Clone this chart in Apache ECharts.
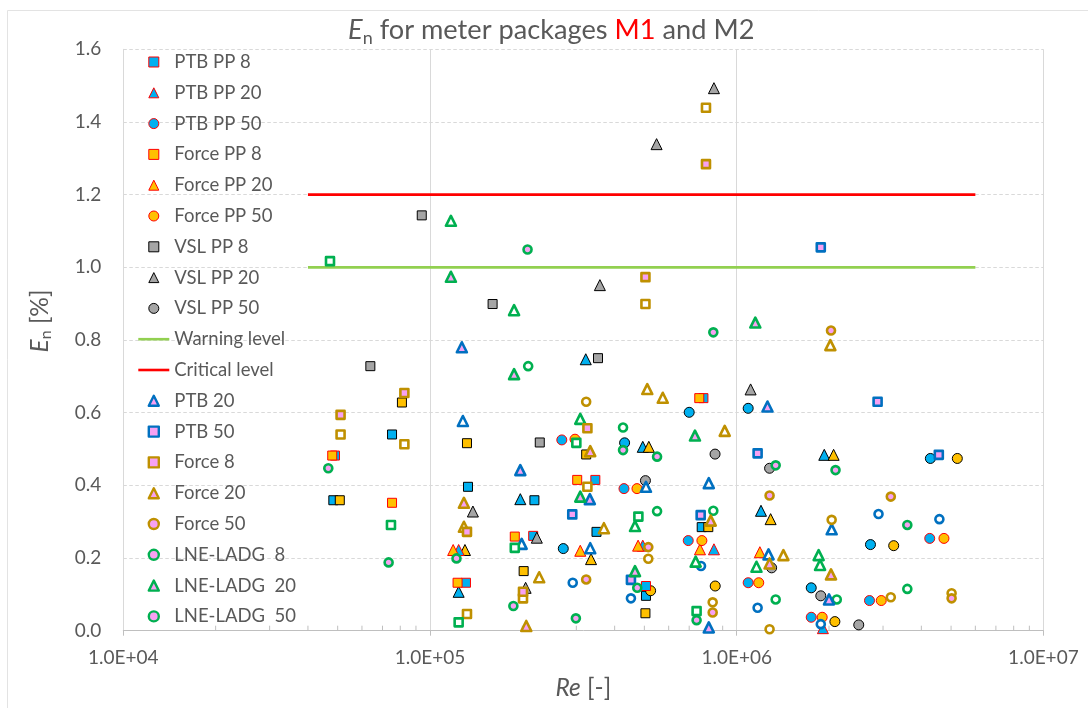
<!DOCTYPE html>
<html><head><meta charset="utf-8">
<script src="https://cdn.jsdelivr.net/npm/echarts@6/dist/echarts.min.js"></script>
<style>html,body{margin:0;padding:0;background:#fff}#c{width:1088px;height:708px}</style>
</head><body><div id="c"></div>
<script>
// ---- tick labels ----
const xTickLabels = ['1.0E+04', '1.0E+05', '1.0E+06', '1.0E+07'];
const yTickLabels = ['0.0', '0.2', '0.4', '0.6', '0.8', '1.0', '1.2', '1.4', '1.6'];
const minorTicks = [2e4, 3e4, 4e4, 5e4, 6e4, 7e4, 8e4, 9e4,
  2e5, 3e5, 4e5, 5e5, 6e5, 7e5, 8e5, 9e5,
  2e6, 3e6, 4e6, 5e6, 6e6, 7e6, 8e6, 9e6];

// ---- reference levels ----
const warningLevel = [[4e4, 1.0], [6e6, 1.0]];
const criticalLevel = [[4e4, 1.2], [6e6, 1.2]];

// ---- filled markers, red edge ----
const ptbPP8 = [[4.9e4, 0.482], [1.31e5, 0.132], [3.46e5, 0.415], [7.79e5, 0.640], [2.17e5, 0.261], [5.06e5, 0.123]];
const ptbPP20 = [[1.24e5, 0.222], [4.94e5, 0.234], [8.43e5, 0.224], [1.91e6, 0.007]];
const ptbPP50 = [[2.69e5, 0.525], [4.29e5, 0.391], [6.95e5, 0.248], [4.26e6, 0.254], [1.09e6, 0.132], [2.71e6, 0.083], [1.75e6, 0.037]];
const forcePP8 = [[4.8e4, 0.482], [7.52e4, 0.352], [1.23e5, 0.132], [1.89e5, 0.259], [3.02e5, 0.415], [7.55e5, 0.640]];
const forcePP20 = [[1.19e5, 0.222], [3.09e5, 0.220], [4.77e5, 0.234], [7.59e5, 0.224], [1.19e6, 0.216]];
const forcePP50 = [[2.97e5, 0.527], [4.73e5, 0.391], [7.7e5, 0.248], [4.74e6, 0.254], [1.18e6, 0.132], [2.96e6, 0.083], [1.90e6, 0.037]];
const vslPP8 = [[9.4e4, 1.143], [1.60e5, 0.899], [6.39e4, 0.728], [2.28e5, 0.518], [3.53e5, 0.750]];
const vslPP20 = [[8.43e5, 1.493], [5.48e5, 1.339], [3.58e5, 0.951], [1.11e6, 0.664], [1.38e5, 0.328], [2.23e5, 0.256], [2.05e5, 0.118]];
const vslPP50 = [[8.5e5, 0.486], [5.04e5, 0.413], [1.28e6, 0.447], [1.30e6, 0.173], [1.88e6, 0.096], [2.50e6, 0.016]];

// ---- filled markers, black edge ----
const ptbPP8b = [[7.52e4, 0.540], [1.33e5, 0.396], [4.84e4, 0.359], [2.19e5, 0.359], [3.49e5, 0.272], [7.69e5, 0.285], [5.06e5, 0.096]];
const ptbPP20b = [[1.97e5, 0.362], [1.24e5, 0.107], [3.22e5, 0.747], [4.94e5, 0.506], [1.93e6, 0.484], [1.20e6, 0.330]];
const ptbPP50b = [[7.0e5, 0.601], [1.09e6, 0.612], [4.31e5, 0.517], [2.72e5, 0.226], [4.28e6, 0.474], [2.73e6, 0.237], [1.75e6, 0.118]];
const forcePP8b = [[8.1e4, 0.628], [1.32e5, 0.516], [5.08e4, 0.359], [2.02e5, 0.164], [3.23e5, 0.485], [8.08e5, 0.285], [5.04e5, 0.048]];
const forcePP20b = [[1.30e5, 0.222], [5.17e5, 0.506], [3.35e5, 0.197], [2.07e6, 0.484], [1.29e6, 0.307]];
const forcePP50b = [[5.24e5, 0.110], [8.51e5, 0.123], [5.24e6, 0.474], [3.25e6, 0.234], [2.09e6, 0.025]];

// ---- hollow markers, pink fill ----
const ptb20 = [[1.27e5, 0.780], [1.97e5, 0.442], [3.32e5, 0.362], [1.26e6, 0.617], [2.0e6, 0.086], [8.11e5, 0.009]];
const ptb50 = [[1.88e6, 1.055], [2.91e5, 0.320], [4.52e5, 0.140], [7.63e5, 0.318], [2.88e6, 0.630], [1.17e6, 0.488], [4.56e6, 0.484]];
const force8 = [[7.94e5, 1.284], [5.04e5, 0.973], [8.25e4, 0.654], [5.11e4, 0.594], [1.32e5, 0.272], [3.26e5, 0.557], [2.01e5, 0.107]];
const force20 = [[1.29e5, 0.352], [2.06e5, 0.013], [3.33e5, 0.494], [8.23e5, 0.303], [1.28e6, 0.185], [2.03e6, 0.155]];
const force50 = [[2.03e6, 0.826], [5.15e5, 0.230], [3.23e5, 0.141], [8.35e5, 0.050], [1.28e6, 0.372], [3.18e6, 0.369], [5.02e6, 0.089]];
const lne8 = [[4.66e4, 0.447], [7.33e4, 0.188], [1.22e5, 0.199], [1.87e5, 0.068], [2.99e5, 0.034]];
const lne20 = [[1.17e5, 0.974], [1.88e5, 0.706], [7.31e5, 0.537], [3.09e5, 0.369], [4.66e5, 0.164], [1.15e6, 0.848]];
const lne50 = [[2.08e5, 1.049], [8.39e5, 0.821], [4.26e5, 0.497], [5.5e5, 0.479], [4.74e5, 0.118], [7.40e5, 0.029], [1.34e6, 0.455], [2.10e6, 0.442], [3.6e6, 0.291]];

// ---- hollow markers, white fill ----
const ptb20w = [[1.28e5, 0.577], [1.99e5, 0.239], [5.06e5, 0.396], [8.11e5, 0.406], [3.33e5, 0.227], [1.27e6, 0.210], [2.04e6, 0.279]];
const ptb50w = [[7.65e5, 0.178], [2.92e5, 0.132], [4.52e5, 0.089], [2.90e6, 0.321], [4.58e6, 0.307], [1.17e6, 0.063], [1.88e6, 0.018]];
const force8w = [[7.94e5, 1.439], [5.04e5, 0.899], [5.11e4, 0.540], [8.25e4, 0.513], [2.01e5, 0.089], [1.32e5, 0.046], [3.26e5, 0.396]];
const force20w = [[1.29e5, 0.286], [5.11e5, 0.665], [5.74e5, 0.641], [9.14e5, 0.550], [2.27e5, 0.147], [3.69e5, 0.282], [2.02e6, 0.786], [1.42e6, 0.208]];
const force50w = [[3.23e5, 0.630], [5.15e5, 0.198], [8.35e5, 0.078], [2.04e6, 0.305], [3.18e6, 0.092], [5.02e6, 0.103], [1.28e6, 0.004]];
const lne8w = [[4.72e4, 1.017], [7.46e4, 0.291], [1.89e5, 0.228], [1.24e5, 0.023], [3.0e5, 0.517], [4.78e5, 0.314], [7.40e5, 0.054]];
const lne20w = [[1.17e5, 1.128], [1.88e5, 0.882], [3.09e5, 0.583], [4.66e5, 0.288], [7.35e5, 0.190], [1.16e6, 0.176], [1.85e6, 0.208], [1.87e6, 0.181]];
const lne50w = [[2.09e5, 0.728], [4.26e5, 0.559], [5.5e5, 0.329], [8.39e5, 0.330], [1.34e6, 0.086], [2.12e6, 0.086], [3.6e6, 0.115]];

// ---- styling ----
const FONT = 'Lato';
const TXT = '#595959';
const FILL = { ptb: '#00b0f0', force: '#ffc000', vsl: '#a5a5a5' };
const EDGE = { ptb: '#0070c0', force: '#bf9000', lne: '#00b050' };
const PINK = '#f7a1f2';
const WHITE = '#ffffff';
const FSIZE = { rect: 9, triangle: 11, circle: 10 };
const HSIZE = { rect: 8, triangle: 10, circle: 8 };
const ICON = {
  rect: 'path://M0,0H10V10H0Z',
  triangle: 'path://M5,0L10,10H0Z',
  circle: 'path://M10,5A5,5,0,1,1,0,5A5,5,0,1,1,10,5Z'
};

const legendItems = [];
function filled(name, data, symbol, fill, edge, inLegend) {
  if (inLegend) legendItems.push({ name, icon: ICON[symbol], itemStyle: { borderWidth: 1 } });
  return { name, type: 'scatter', data, symbol, symbolSize: FSIZE[symbol],
    itemStyle: { color: fill, borderColor: edge, borderWidth: 1, opacity: 1 },
    emphasis: { disabled: true }, z: 3 };
}
function hollow(name, data, symbol, edge, fill, inLegend) {
  if (inLegend) legendItems.push({ name, icon: ICON[symbol], itemStyle: { borderWidth: 2.4 } });
  return { name, type: 'scatter', data, symbol, symbolSize: HSIZE[symbol],
    itemStyle: { color: fill, borderColor: edge, borderWidth: 2.6, borderJoin: 'round', opacity: 1 },
    emphasis: { disabled: true }, z: 4 };
}
function level(name, data, color) {
  legendItems.push({ name, itemStyle: { color: 'rgba(0,0,0,0)', borderWidth: 0 } });
  return { name, type: 'line', data, symbol: 'none', silent: true,
    lineStyle: { color, width: 2.6 }, itemStyle: { color: 'rgba(0,0,0,0)' }, z: 2 };
}

const legendSeries = [
  filled('PTB PP 8', ptbPP8, 'rect', FILL.ptb, '#ff0000', true),
  filled('PTB PP 20', ptbPP20, 'triangle', FILL.ptb, '#ff0000', true),
  filled('PTB PP 50', ptbPP50, 'circle', FILL.ptb, '#ff0000', true),
  filled('Force PP 8', forcePP8, 'rect', FILL.force, '#ff0000', true),
  filled('Force PP 20', forcePP20, 'triangle', FILL.force, '#ff0000', true),
  filled('Force PP 50', forcePP50, 'circle', FILL.force, '#ff0000', true),
  filled('VSL PP 8', vslPP8, 'rect', FILL.vsl, '#000', true),
  filled('VSL PP 20', vslPP20, 'triangle', FILL.vsl, '#000', true),
  filled('VSL PP 50', vslPP50, 'circle', FILL.vsl, '#000', true),
  level('Warning level', warningLevel, '#92d050'),
  level('Critical level', criticalLevel, '#ff0000'),
  hollow('PTB 20', ptb20, 'triangle', EDGE.ptb, PINK, true),
  hollow('PTB 50', ptb50, 'rect', EDGE.ptb, PINK, true),
  hollow('Force 8', force8, 'rect', EDGE.force, PINK, true),
  hollow('Force 20', force20, 'triangle', EDGE.force, PINK, true),
  hollow('Force 50', force50, 'circle', EDGE.force, PINK, true),
  hollow('LNE-LADG  8', lne8, 'circle', EDGE.lne, PINK, true),
  hollow('LNE-LADG  20', lne20, 'triangle', EDGE.lne, PINK, true),
  hollow('LNE-LADG  50', lne50, 'circle', EDGE.lne, PINK, true)
];
const otherSeries = [
  filled('PTB PP 8 b', ptbPP8b, 'rect', FILL.ptb, '#000', false),
  filled('PTB PP 20 b', ptbPP20b, 'triangle', FILL.ptb, '#000', false),
  filled('PTB PP 50 b', ptbPP50b, 'circle', FILL.ptb, '#000', false),
  filled('Force PP 8 b', forcePP8b, 'rect', FILL.force, '#000', false),
  filled('Force PP 20 b', forcePP20b, 'triangle', FILL.force, '#000', false),
  filled('Force PP 50 b', forcePP50b, 'circle', FILL.force, '#000', false),
  hollow('PTB 20 w', ptb20w, 'triangle', EDGE.ptb, WHITE, false),
  hollow('PTB 50 w', ptb50w, 'circle', EDGE.ptb, WHITE, false),
  hollow('Force 8 w', force8w, 'rect', EDGE.force, WHITE, false),
  hollow('Force 20 w', force20w, 'triangle', EDGE.force, WHITE, false),
  hollow('Force 50 w', force50w, 'circle', EDGE.force, WHITE, false),
  hollow('LNE 8 w', lne8w, 'rect', EDGE.lne, WHITE, false),
  hollow('LNE 20 w', lne20w, 'triangle', EDGE.lne, WHITE, false),
  hollow('LNE 50 w', lne50w, 'circle', EDGE.lne, WHITE, false),
  { name: 'minor ticks', type: 'custom', silent: true, clip: false, z: 1,
    data: minorTicks.map(v => [v, 0]),
    renderItem: function (params, api) {
      const p = api.coord([api.value(0), 0]);
      return { type: 'line', shape: { x1: p[0], y1: p[1], x2: p[0], y2: p[1] - 5 },
        style: { stroke: '#bfbfbf', lineWidth: 1 } };
    } }
];

const richE = {
  i: { fontFamily: FONT, fontStyle: 'italic', fontSize: 24.5, color: TXT, lineHeight: 28 },
  s: { fontFamily: FONT, fontSize: 16, color: TXT, lineHeight: 16, verticalAlign: 'bottom' }
};

const chart = echarts.init(document.getElementById('c'), null, { renderer: 'canvas' });
chart.setOption({
  backgroundColor: '#ffffff',
  animation: false,
  graphic: [{ type: 'rect', silent: true, z: -10,
    shape: { x: 7.5, y: 10.5, width: 1200, height: 900 },
    style: { fill: 'none', stroke: '#e3e3e3', lineWidth: 1 } }],
  title: {
    text: '{i|E}{s|n} for meter packages {r|M1} and M2',
    left: 348, top: 13, padding: 0,
    textStyle: { fontFamily: FONT, fontSize: 27.2, fontWeight: 'normal', color: TXT, lineHeight: 34,
      rich: {
        i: { fontFamily: FONT, fontStyle: 'italic', fontSize: 27.2, color: TXT, lineHeight: 34 },
        s: { fontFamily: FONT, fontSize: 18, color: TXT, lineHeight: 20, verticalAlign: 'bottom' },
        r: { fontFamily: FONT, fontSize: 27.2, color: '#ff0000', lineHeight: 34 }
      } }
  },
  legend: {
    orient: 'vertical', left: 137, top: 52, padding: 0,
    itemWidth: 31, itemHeight: 10, itemGap: 10.8,
    data: legendItems, selectedMode: false,
    textStyle: { fontFamily: FONT, fontSize: 18.5, color: TXT, lineHeight: 20 },
    itemStyle: { borderWidth: 'inherit' }, lineStyle: { width: 'inherit' }
  },
  grid: { left: 123.3, right: 44.6, top: 49.3, bottom: 77.3, containLabel: false },
  xAxis: {
    type: 'log', logBase: 10, min: 1e4, max: 1e7,
    axisLine: { show: true, lineStyle: { color: '#bfbfbf', width: 1 } },
    axisTick: { show: true, length: 5, lineStyle: { color: '#bfbfbf' } },
    axisLabel: { formatter: v => xTickLabels[Math.round(Math.log10(v)) - 4],
      fontFamily: FONT, fontSize: 19, color: TXT, margin: 17, lineHeight: 20 },
    splitLine: { show: true, lineStyle: { color: '#d9d9d9', width: 1 } },
    name: '{i|Re} [-]', nameLocation: 'middle', nameGap: 43,
    nameTextStyle: { fontFamily: FONT, fontSize: 24.5, color: TXT, lineHeight: 28, rich: richE }
  },
  yAxis: {
    type: 'value', min: 0, max: 1.6, interval: 0.2,
    axisLine: { show: true, lineStyle: { color: '#d9d9d9', width: 1 } },
    axisTick: { show: false },
    axisLabel: { formatter: v => yTickLabels[Math.round(v / 0.2)],
      fontFamily: FONT, fontSize: 19, color: TXT, margin: 22 },
    splitLine: { show: true, lineStyle: { color: '#d9d9d9', width: 1, type: [3.5, 2.5] } },
    name: '{i|E}{s|n} [%]', nameLocation: 'middle', nameGap: 69,
    nameTextStyle: { fontFamily: FONT, fontSize: 24.5, color: TXT, lineHeight: 28, padding: [0, 0, 0, 38], rich: richE }
  },
  series: otherSeries.slice(0, 6).concat(legendSeries.slice(0, 9), legendSeries.slice(9, 11), otherSeries.slice(6, 14), legendSeries.slice(11), otherSeries.slice(14))
});
</script></body></html>
